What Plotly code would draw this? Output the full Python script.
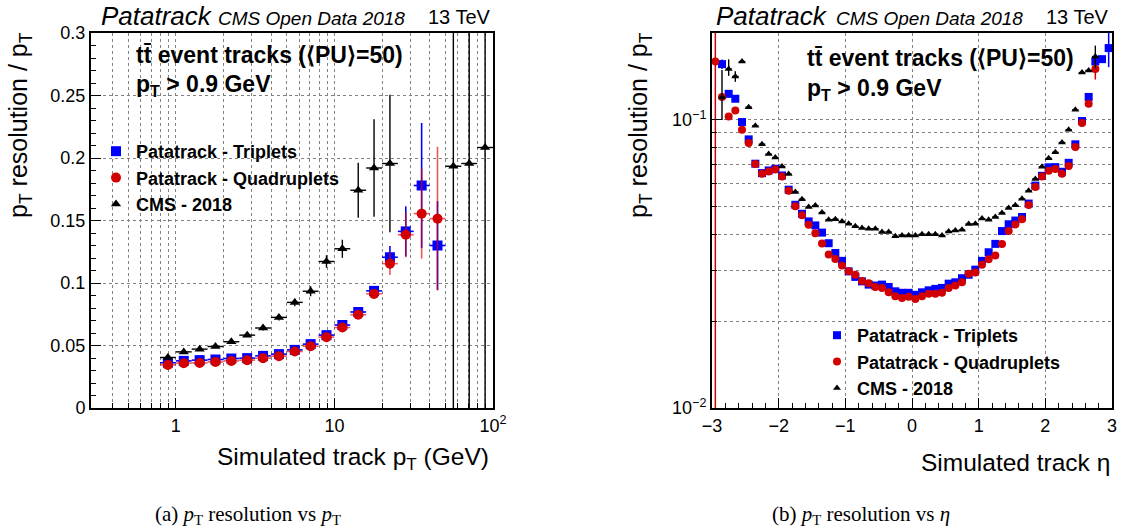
import plotly.graph_objects as go

W, H = 1122, 532

# ---------------- data: left panel (resolution vs pT) ----------------
pt_centers = [0.891, 1.122, 1.413, 1.778, 2.239, 2.818, 3.548, 4.467, 5.623, 7.079,
              8.913, 11.22, 14.13, 17.78, 22.39, 28.18, 35.48, 44.67, 56.23, 70.79, 89.13]
pt_lo = [0.794, 1.0, 1.259, 1.585, 1.995, 2.512, 3.162, 3.981, 5.012, 6.310,
         7.943, 10.0, 12.59, 15.85, 19.95, 25.12, 31.62, 39.81, 50.12, 63.10, 79.43]
pt_hi = [1.0, 1.259, 1.585, 1.995, 2.512, 3.162, 3.981, 5.012, 6.310, 7.943,
         10.0, 12.59, 15.85, 19.95, 25.12, 31.62, 39.81, 50.12, 63.10, 79.43, 100.0]

trip_pt = [0.0362, 0.0377, 0.0383, 0.0388, 0.0396, 0.0399, 0.0417, 0.0431, 0.0465, 0.0511,
           0.0583, 0.0664, 0.0768, 0.0937, 0.1206, 0.1413, 0.178, 0.130]
trip_pt_err = [0.0005, 0.0005, 0.0005, 0.0005, 0.0005, 0.0006, 0.0007, 0.0008, 0.001, 0.0012,
               0.0015, 0.002, 0.0025, 0.003, 0.009, 0.02, 0.05, 0.0355]
quad_pt = [0.0345, 0.0359, 0.0361, 0.0369, 0.0377, 0.0383, 0.0399, 0.0415, 0.0452, 0.0495,
           0.0567, 0.0644, 0.0746, 0.0913, 0.1155, 0.1386, 0.1555, 0.1515]
quad_pt_err = [0.0005, 0.0005, 0.0005, 0.0005, 0.0005, 0.0006, 0.0007, 0.0008, 0.001, 0.0012,
               0.0015, 0.002, 0.0025, 0.003, 0.009, 0.018, 0.036, 0.0575]
cms_pt_bins = [0, 1, 2, 3, 4, 5, 6, 7, 8, 9, 10, 11, 12, 13, 14, 18, 19, 20]
cms_pt = [0.0404, 0.0449, 0.0471, 0.0492, 0.053, 0.0583, 0.064, 0.0725, 0.0845, 0.0934,
          0.1172, 0.1274, 0.1742, 0.192, 0.1956, 0.1934, 0.1956, 0.2084]
cms_pt_err = [0.001, 0.001, 0.001, 0.001, 0.0012, 0.0015, 0.002, 0.0025, 0.003, 0.004,
              0.005, 0.0072, 0.022, 0.039, 0.055, 0.5, 0.5, 0.5]

# ---------------- data: right panel (resolution vs eta) ----------------
eta_centers = [-2.95, -2.85, -2.75, -2.65, -2.55, -2.45, -2.35, -2.25, -2.15, -2.05,
               -1.95, -1.85, -1.75, -1.65, -1.55, -1.45, -1.35, -1.25, -1.15, -1.05,
               -0.95, -0.85, -0.75, -0.65, -0.55, -0.45, -0.35, -0.25, -0.15, -0.05,
               0.05, 0.15, 0.25, 0.35, 0.45, 0.55, 0.65, 0.75, 0.85, 0.95,
               1.05, 1.15, 1.25, 1.35, 1.45, 1.55, 1.65, 1.75, 1.85, 1.95,
               2.05, 2.15, 2.25, 2.35, 2.45, 2.55, 2.65, 2.75, 2.85, 2.95]
eta_halfwidth = 0.05

trip_eta = [None, 0.156, 0.123, 0.1183, 0.0982, 0.0855, 0.0704, 0.0653, 0.0667, 0.0676,
            0.0641, 0.0572, 0.0507, 0.0472, 0.0444, 0.0430, 0.0406, 0.0373, 0.0345, 0.0324,
            0.0298, 0.0285, 0.0275, 0.0268, 0.0266, 0.0268, 0.0263, 0.0254, 0.0251, 0.0251,
            0.0247, 0.0252, 0.0256, 0.0259, 0.0261, 0.0270, 0.0273, 0.0282, 0.0290, 0.0302,
            0.0324, 0.0347, 0.0371, 0.0411, 0.0434, 0.0447, 0.0460, 0.0512, 0.0591, 0.0639,
            0.0684, 0.0685, 0.0660, 0.0709, 0.0822, 0.0990, 0.1200, 0.1593, 0.1623, 0.1773]
quad_eta = [0.1593, 0.120, 0.1027, 0.1077, 0.0923, 0.0830, 0.0703, 0.0650, 0.0662, 0.0672,
            0.0636, 0.0567, 0.0501, 0.0466, 0.0432, 0.0404, 0.0372, 0.0341, 0.0329, 0.0312,
            0.0298, 0.0290, 0.0276, 0.0271, 0.0263, 0.0261, 0.0252, 0.0244, 0.0241, 0.0243,
            0.0239, 0.0244, 0.0249, 0.0249, 0.0251, 0.0261, 0.0266, 0.0273, 0.0292, 0.0295,
            0.0314, 0.0328, 0.0338, 0.0371, 0.0411, 0.0433, 0.0452, 0.0506, 0.0585, 0.0636,
            0.0666, 0.0675, 0.0650, 0.0691, 0.0804, 0.0974, 0.1136, 0.1499, None, None]
cms_eta = [None, 0.1198, 0.150, 0.1414, 0.1593, 0.1106, 0.0953, 0.0823, 0.0760, 0.0740,
           0.0689, 0.0648, 0.0562, 0.0530, 0.0498, 0.0504, 0.0477, 0.0450, 0.0452, 0.0444,
           0.0436, 0.0427, 0.0421, 0.0419, 0.0419, 0.0408, 0.0408, 0.0394, 0.0397, 0.0397,
           0.0397, 0.0401, 0.0401, 0.0401, 0.0397, 0.0410, 0.0413, 0.0415, 0.0435, 0.0436,
           0.0454, 0.0450, 0.0460, 0.0475, 0.0494, 0.0505, 0.0532, 0.0567, 0.0623, 0.0687,
           0.0735, 0.0771, 0.0834, 0.0923, 0.1083, 0.1459, 0.1483, 0.1658, None, None]
# uncertainties (only noticeable ones)
trip_eta_up = {1: 0.006, 57: 0.01, 59: 0.06}
trip_eta_dn = {1: 0.006, 57: 0.01, 59: 0.025}
quad_eta_up = {0: 1.0, 57: 0.012}
quad_eta_dn = {0: 0.155, 57: 0.012}
cms_eta_up = {1: 0.029, 2: 0.012, 3: 0.006, 57: 0.015}
cms_eta_dn = {1: 0.02, 2: 0.008, 3: 0.006, 57: 0.015}

BLUE = "rgb(0,0,255)"
RED = "rgb(210,0,0)"
RED_ERR = "rgba(225,0,0,0.65)"
BLACK = "black"
FONT = "Liberation Sans, Arial, sans-serif"

fig = go.Figure()

def xerr(idx_list):
    plus = [pt_hi[i] - pt_centers[i] for i in idx_list]
    minus = [pt_centers[i] - pt_lo[i] for i in idx_list]
    return plus, minus

# left panel traces
idx = list(range(len(trip_pt)))
p, m = xerr(idx)
fig.add_trace(go.Scatter(
    x=[pt_centers[i] for i in idx], y=trip_pt, mode="markers",
    name="<b>Patatrack - Triplets</b>", legend="legend", legendgroup="t",
    marker=dict(symbol="square", size=10, color=BLUE),
    error_y=dict(type="data", array=trip_pt_err, color=BLUE, thickness=1.6, width=0),
    error_x=dict(type="data", array=p, arrayminus=m, symmetric=False, color=BLUE, thickness=1.6, width=0),
    xaxis="x", yaxis="y"))
idx = list(range(len(quad_pt)))
p, m = xerr(idx)
fig.add_trace(go.Scatter(
    x=[pt_centers[i] for i in idx], y=quad_pt, mode="markers",
    name="<b>Patatrack - Quadruplets</b>", legend="legend", legendgroup="q",
    marker=dict(symbol="circle", size=10, color=RED),
    error_y=dict(type="data", array=quad_pt_err, color=RED_ERR, thickness=1.6, width=0),
    error_x=dict(type="data", array=p, arrayminus=m, symmetric=False, color=RED_ERR, thickness=1.6, width=0),
    xaxis="x", yaxis="y"))
p, m = xerr(cms_pt_bins)
fig.add_trace(go.Scatter(
    x=[pt_centers[i] for i in cms_pt_bins], y=cms_pt, mode="markers",
    name="<b>CMS - 2018</b>", legend="legend", legendgroup="c",
    marker=dict(symbol="triangle-up", size=9, color=BLACK),
    error_y=dict(type="data", array=cms_pt_err, color=BLACK, thickness=1.4, width=0),
    error_x=dict(type="data", array=p, arrayminus=m, symmetric=False, color=BLACK, thickness=1.4, width=0),
    xaxis="x", yaxis="y"))

# right panel traces
def arr(d):
    return [d.get(i, 0.0) for i in range(len(eta_centers))]

hw = [eta_halfwidth] * len(eta_centers)
fig.add_trace(go.Scatter(
    x=eta_centers, y=trip_eta, mode="markers",
    name="<b>Patatrack - Triplets</b>", legend="legend2", legendgroup="t2",
    marker=dict(symbol="square", size=8, color=BLUE),
    error_y=dict(type="data", array=arr(trip_eta_up), arrayminus=arr(trip_eta_dn), symmetric=False,
                 color=BLUE, thickness=1.5, width=0),
    error_x=dict(type="data", array=hw, color=BLUE, thickness=1.2, width=0),
    xaxis="x2", yaxis="y2"))
fig.add_trace(go.Scatter(
    x=eta_centers, y=quad_eta, mode="markers",
    name="<b>Patatrack - Quadruplets</b>", legend="legend2", legendgroup="q2",
    marker=dict(symbol="circle", size=8, color=RED),
    error_y=dict(type="data", array=arr(quad_eta_up), arrayminus=arr(quad_eta_dn), symmetric=False,
                 color=RED, thickness=1.5, width=0),
    error_x=dict(type="data", array=hw, color=RED_ERR, thickness=1.2, width=0),
    xaxis="x2", yaxis="y2"))
fig.add_trace(go.Scatter(
    x=eta_centers, y=cms_eta, mode="markers",
    name="<b>CMS - 2018</b>", legend="legend2", legendgroup="c2",
    marker=dict(symbol="triangle-up", size=7, color=BLACK),
    error_y=dict(type="data", array=arr(cms_eta_up), arrayminus=arr(cms_eta_dn), symmetric=False,
                 color=BLACK, thickness=1.4, width=0),
    error_x=dict(type="data", array=hw, color=BLACK, thickness=1.2, width=0),
    xaxis="x2", yaxis="y2"))

GRID = "rgb(130,130,130)"
axis_common = dict(showline=True, linewidth=2, linecolor="black", mirror=True,
                   ticks="inside", tickcolor="black", tickwidth=1, automargin=False,
                   tickfont=dict(family=FONT, size=18, color="black"),
                   showgrid=True, gridcolor=GRID, griddash="dot", gridwidth=1,
                   zeroline=False)

def px2x(px):
    return px / W

def px2y(py):
    return 1 - py / H

yd = [px2y(408), px2y(33)]

fig.update_layout(
    width=W, height=H, margin=dict(l=0, r=0, t=0, b=0, pad=0, autoexpand=False),
    paper_bgcolor="white", plot_bgcolor="white",
    font=dict(family=FONT, color="black"),
    xaxis=dict(domain=[px2x(91), px2x(493)], type="log", range=[-0.535, 2.0],
               tickvals=[1, 10, 100], ticktext=["1", "10", "10<sup>2</sup>"], ticklen=10,
               minor=dict(tickvals=[0.4, 0.5, 0.6, 0.7, 0.8, 0.9, 2, 3, 4, 5, 6, 7, 8, 9,
                                    20, 30, 40, 50, 60, 70, 80, 90],
                          ticks="inside", ticklen=5, tickcolor="black",
                          showgrid=True, gridcolor=GRID, griddash="dot", gridwidth=1),
               anchor="y", **axis_common),
    yaxis=dict(domain=yd, range=[0, 0.3], tickvals=[0, 0.05, 0.1, 0.15, 0.2, 0.25, 0.3],
               ticktext=["0", "0.05", "0.1", "0.15", "0.2", "0.25", "0.3"], ticklen=10,
               minor=dict(dtick=0.01, tick0=0, ticks="inside", ticklen=5, tickcolor="black",
                          showgrid=False),
               anchor="x", **axis_common),
    xaxis2=dict(domain=[px2x(712), px2x(1112)], range=[-3, 3],
                tickvals=[-3, -2, -1, 0, 1, 2, 3],
                ticktext=["\u22123", "\u22122", "\u22121", "0", "1", "2", "3"], ticklen=10,
                minor=dict(dtick=0.2, tick0=0, ticks="inside", ticklen=5, tickcolor="black",
                           showgrid=False),
                anchor="y2", **axis_common),
    yaxis2=dict(domain=yd, type="log", range=[-2, -0.69897],
                tickvals=[0.01, 0.1], ticktext=["10<sup>\u22122</sup>", "10<sup>\u22121</sup>"],
                ticklen=10,
                minor=dict(tickvals=[0.02, 0.03, 0.04, 0.05, 0.06, 0.07, 0.08, 0.09, 0.2],
                           ticks="inside", ticklen=5, tickcolor="black",
                           showgrid=True, gridcolor=GRID, griddash="dot", gridwidth=1),
                anchor="x2", **axis_common),
    legend=dict(x=px2x(96), y=px2y(133), xanchor="left", yanchor="top",
                bgcolor="rgba(0,0,0,0)", font=dict(family=FONT, size=18, color="black"),
                traceorder="grouped", tracegroupgap=0, itemclick=False),
    legend2=dict(x=px2x(817), y=px2y(317), xanchor="left", yanchor="top",
                 bgcolor="rgba(0,0,0,0)", font=dict(family=FONT, size=18, color="black"),
                 traceorder="grouped", tracegroupgap=0, itemclick=False),
)

ann = []

def add_text(text, px, py, size, xanchor="left", yanchor="middle", angle=0, family=FONT):
    ann.append(dict(text=text, x=px2x(px), y=px2y(py), xref="paper", yref="paper",
                    xanchor=xanchor, yanchor=yanchor, showarrow=False, textangle=angle,
                    font=dict(family=family, size=size, color="black")))

for x0, x1, x2 in [(99, 216, 426), (714, 834, 1044)]:
    add_text("<i>Patatrack</i>", x0, 16, 26)
    add_text("<i>CMS Open Data 2018</i>", x1, 18, 19)
    add_text("13 TeV", x2, 17, 20)

for xl, y1, y2 in [(134, 55, 86), (805, 58, 89)]:
    add_text("<b>t\u0074\u0304 event tracks (\u27e8PU\u27e9=50)</b>", xl, y1, 23)
    add_text("<b>p<sub>T</sub> &gt; 0.9 GeV</b>", xl, y2, 23)

add_text("p<sub>T</sub> resolution / p<sub>T</sub>", 20, 30, 25, xanchor="center", yanchor="top", angle=-90)
add_text("p<sub>T</sub> resolution / p<sub>T</sub>", 640, 30, 25, xanchor="center", yanchor="top", angle=-90)
add_text("Simulated track p<sub>T</sub> (GeV)", 491, 458, 24.5, xanchor="right")
add_text("Simulated track \u03b7", 1112, 462, 24.5, xanchor="right")

SERIF = "Liberation Serif, DejaVu Serif, serif"
add_text("(a) <i>p</i><sub>T</sub> resolution vs <i>p</i><sub>T</sub>", 248, 515, 21, xanchor="center", family=SERIF)
add_text("(b) <i>p</i><sub>T</sub> resolution vs <i>\u03b7</i>", 861, 515, 21, xanchor="center", family=SERIF)

fig.update_layout(annotations=ann)

fig.write_html("out.html", config={"displayModeBar": False},
               post_script="document.body.style.margin='0';document.body.style.overflow='hidden';")
